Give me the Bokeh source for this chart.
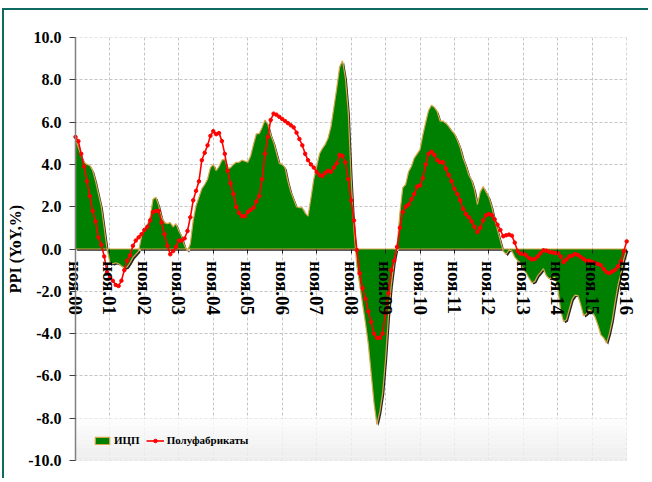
import math
from bokeh.plotting import figure
from bokeh.models import (FixedTicker, NumeralTickFormatter, Legend, LegendItem,
                          BoxAnnotation, Range1d)
from bokeh.embed import file_html
from bokeh.resources import INLINE

# ---------------- data (monthly, Nov 2000 .. Nov 2016) ----------------
year_labels = ["ноя.00", "ноя.01", "ноя.02", "ноя.03", "ноя.04", "ноя.05",
               "ноя.06", "ноя.07", "ноя.08", "ноя.09", "ноя.10", "ноя.11",
               "ноя.12", "ноя.13", "ноя.14", "ноя.15", "ноя.16"]

ppi_total = [  # ИЦП
    5.2, 4.8, 4.4, 4.1, 4.0, 3.95, 3.7, 3.2, 2.6, 2.0, 1.0, 0.0,
    -0.65, -0.7, -0.65, -0.7, -0.8, -0.9, -0.85, -0.65, -0.4, -0.25, -0.1, 0.6,
    0.95, 1.1, 1.5, 2.35, 2.45, 2.05, 1.5, 1.25, 1.2, 1.25, 1.05, 1.2,
    0.85, 0.6, 0.15, -0.1, 0.25, 1.35, 2.05, 2.45, 2.85, 3.05, 3.3, 3.85,
    4.0, 3.7, 3.9, 4.2, 4.25, 3.8, 3.85, 4.0, 4.1, 4.1, 4.2, 4.15,
    4.1, 4.4, 4.95, 5.45, 5.45, 5.75, 6.1, 5.9, 5.4, 5.05, 4.55, 4.05,
    4.0, 3.85, 3.2, 2.7, 2.35, 2.0, 1.95, 1.95, 1.7, 1.55, 2.4, 3.3,
    3.9, 4.5, 4.75, 4.95, 5.25, 5.8, 6.7, 7.6, 8.6, 8.9, 8.1, 6.5,
    3.4, 0.9, -0.8, -1.7, -2.6, -3.5, -4.5, -5.9, -7.3, -8.3, -7.7, -6.8,
    -5.2, -3.2, -1.7, -0.6, 0.1, 1.7, 2.9, 3.05, 3.65, 3.9, 4.3, 4.5,
    4.7, 5.4, 6.0, 6.55, 6.8, 6.7, 6.5, 6.05, 6.05, 5.95, 5.8, 5.6,
    5.45, 5.15, 4.8, 4.3, 3.95, 3.5, 3.25, 2.8, 2.1, 2.7, 2.95, 2.7,
    2.45, 2.0, 1.4, 0.9, 0.4, -0.1, -0.25, -0.05, -0.1, -0.38, -0.54, -0.66,
    -0.95, -1.14, -1.38, -1.6, -1.53, -1.26, -1.1, -0.93, -1.26, -1.4, -1.37, -1.33,
    -1.85, -2.9, -3.43, -3.35, -2.85, -2.37, -2.18, -2.2, -2.64, -3.16, -3.06, -2.87,
    -2.97, -3.22, -3.6, -4.06, -4.2, -4.45, -3.98, -3.35, -2.48, -1.69, -1.14, -0.47,
    -0.03,
]

semi_products = [  # Полуфабрикаты
    5.3, 5.1, 4.5, 3.9, 3.2, 2.5, 1.8, 1.3, 0.55, 0.2, -0.35, -1.1,
    -1.35, -1.5, -1.7, -1.75, -1.5, -1.0, -0.55, -0.3, 0.15, 0.4, 0.55, 0.7,
    0.9, 1.05, 1.35, 1.75, 1.8, 1.8, 1.25, 0.7, 0.15, -0.25, -0.1, 0.1,
    0.4, 0.4, 0.5, 0.85, 1.5, 2.3, 2.75, 3.2, 4.2, 4.55, 4.9, 5.35,
    5.57, 5.43, 5.48, 5.1, 4.5, 3.7, 3.1, 2.6, 2.0, 1.7, 1.55, 1.55,
    1.75, 1.85, 1.95, 2.25, 2.5, 3.3, 4.5, 5.3, 6.1, 6.4, 6.35, 6.25,
    6.15, 6.05, 5.95, 5.85, 5.75, 5.5, 5.2, 4.9, 4.5, 4.2, 4.0, 3.85,
    3.65, 3.5, 3.45, 3.6, 3.7, 3.65, 3.85, 4.05, 4.45, 4.4, 4.1, 3.3,
    2.3, 1.35, -0.05, -1.15, -1.85, -2.35, -2.95, -3.45, -4.0, -4.2, -4.2, -4.0,
    -3.05, -2.1, -1.0, -0.55, 0.1, 1.0, 1.75, 2.0, 2.1, 2.35, 2.6, 2.95,
    3.0, 3.35, 4.0, 4.5, 4.6, 4.45, 4.2, 4.1, 4.1, 3.8, 3.5, 3.2,
    2.85, 2.6, 2.3, 1.9, 1.65, 1.5, 1.3, 1.05, 0.8, 1.0, 1.35, 1.6,
    1.65, 1.6, 1.4, 1.15, 0.9, 0.6, 0.65, 0.68, 0.63, 0.3, -0.1, -0.22,
    -0.22, -0.3, -0.43, -0.5, -0.47, -0.35, -0.2, -0.06, -0.08, -0.13, -0.16, -0.19,
    -0.19, -0.35, -0.63, -0.5, -0.35, -0.32, -0.24, -0.28, -0.38, -0.47, -0.57, -0.55,
    -0.62, -0.66, -0.71, -0.77, -0.95, -1.1, -1.14, -1.06, -0.98, -0.82, -0.58, -0.1,
    0.36,
]

y_ticks = [-10, -8, -6, -4, -2, 0, 2, 4, 6, 8, 10]

months = list(range(len(ppi_total)))
year_pos = [12 * i for i in range(len(year_labels))]
last = months[-1]
y_lo, y_hi = y_ticks[0], y_ticks[-1]

SERIF = "Liberation Serif"
GREEN = "#008000"
GOLD = "#d6a64a"
RED = "#ff0000"
GRID = "#c4c4c4"

# ---- layout: the frame fills the whole canvas so nothing gets clipped ----
W, H = 646, 470             # canvas size
PL, PR = 71, 622.2          # pixel position of x=0 and x=last inside canvas
PT, PB = 27, 450            # pixel position of y=hi and y=lo inside canvas
ppx = (PR - PL) / last
ppy = (PB - PT) / (y_hi - y_lo)
x_range = Range1d(-PL / ppx, last + (W - PR) / ppx)
y_range = Range1d(y_lo - (H - PB) / ppy, y_hi + PT / ppy)

p = figure(width=W, height=H, x_range=x_range, y_range=y_range,
           output_backend="svg", toolbar_location=None,
           min_border=0, min_border_left=0, min_border_right=0,
           min_border_top=0, min_border_bottom=0)
p.margin = (8, 0, 0, 2)
p.styles = {"border-left": "2px solid #0f6a64",
            "border-top": "2px solid #0f6a64"}
p.outline_line_color = None
p.background_fill_color = "white"
p.border_fill_color = "white"

# grid
p.xgrid.ticker = FixedTicker(ticks=year_pos)
for g in (p.xgrid, p.ygrid):
    g.grid_line_color = GRID
    g.grid_line_dash = "3 2"
    g.grid_line_width = 1

# white masks outside the data area (hide grid there)
for kw in (dict(right=0), dict(left=last), dict(bottom=y_hi), dict(top=y_lo)):
    p.add_layout(BoxAnnotation(fill_color="white", fill_alpha=1.0, line_color=None,
                               level="underlay", **kw))

# light gradient band behind the legend (bottom of plot area)
n_bands = 10
for i in range(n_bands):
    g = int(255 - 20 * (i + 1) / n_bands)
    top = -8 - 2 * i / n_bands
    bot = -8 - 2 * (i + 1) / n_bands
    p.add_layout(BoxAnnotation(left=0, right=last, bottom=bot, top=top,
                               fill_color=(g, g, g), fill_alpha=0.85,
                               line_color=None, level="underlay"))

# x axis (categories) sitting on the zero line
xax = p.xaxis[0]
xax.fixed_location = 0
xax.ticker = FixedTicker(ticks=year_pos)
xax.major_label_overrides = {pos: lab for pos, lab in zip(year_pos, year_labels)}
xax.major_label_orientation = -math.pi / 2
xax.major_label_text_font = SERIF
xax.major_label_text_font_style = "bold"
xax.major_label_text_font_size = "19px"
xax.major_label_text_color = "black"
xax.axis_line_color = None
xax.major_tick_out = 4
xax.major_tick_in = 0
xax.major_tick_line_color = "#202020"
xax.minor_tick_line_color = None
xax.major_label_standoff = 8

# y axis at x = 0
yax = p.yaxis[0]
yax.fixed_location = 0
yax.bounds = (y_lo, y_hi)
yax.ticker = FixedTicker(ticks=y_ticks)
yax.formatter = NumeralTickFormatter(format="0.0")
yax.major_label_text_font = SERIF
yax.major_label_text_font_style = "bold"
yax.major_label_text_font_size = "16px"
yax.major_label_text_color = "black"
yax.axis_line_color = "#808080"
yax.axis_line_width = 1.5
yax.major_tick_out = 6
yax.major_tick_in = 0
yax.major_tick_line_color = "#404040"
yax.minor_tick_line_color = None
yax.major_label_standoff = 8
yax.axis_label = "PPI (YoY,%)"
yax.axis_label_text_font = SERIF
yax.axis_label_text_font_style = "bold"
yax.axis_label_text_font_size = "16px"
yax.axis_label_text_color = "black"
yax.axis_label_standoff = 1

# area (ИЦП): shadow, fill with gold border
area_x = months + [last, 0]
area_y = ppi_total + [0, 0]
p.patch([x + 0.55 for x in area_x], [y - 0.08 for y in area_y],
        fill_color="black", fill_alpha=0.85, line_color=None)
green = p.patch(area_x, area_y, fill_color=GREEN, line_color=GOLD, line_width=1.2)

# red line with markers
red_line = p.line(months, semi_products, line_color=RED, line_width=1.6)
red_pts = p.scatter(months, semi_products, marker="circle", size=3.5,
                    fill_color=RED, line_color=RED)

legend = Legend(items=[LegendItem(label="ИЦП", renderers=[green]),
                       LegendItem(label="Полуфабрикаты", renderers=[red_line, red_pts])],
                location=(PL + 16, (H - PB) + 12), orientation="horizontal",
                background_fill_alpha=0, border_line_alpha=0,
                label_text_font=SERIF, label_text_font_style="bold",
                label_text_font_size="11px", label_text_color="black",
                glyph_width=18, glyph_height=9, label_standoff=3, spacing=6,
                padding=2, margin=0, label_height=12)
p.add_layout(legend)

open("out.html", "w").write(file_html(p, INLINE))
